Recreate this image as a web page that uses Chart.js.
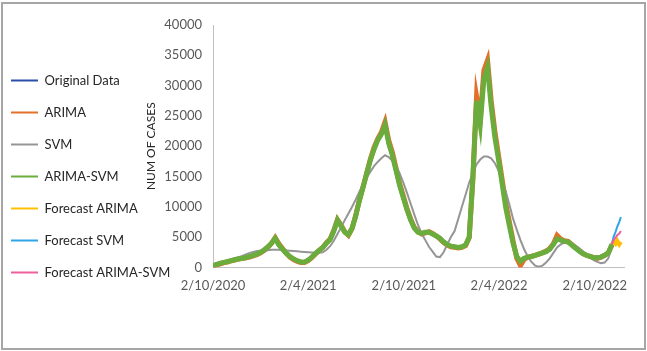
<!DOCTYPE html>
<html>
<head>
<meta charset="utf-8">
<script src="https://cdn.jsdelivr.net/npm/chart.js@4.4.0/dist/chart.umd.min.js"></script>
<style>
  html, body { margin: 0; padding: 0; background: #fff; }
  #frame {
    position: absolute; left: 1px; top: 2px;
    width: 645px; height: 348px;
    box-sizing: border-box;
    border: 2px solid #a6a6a6;
  }
  #wrap { position: absolute; left: 0; top: 0; width: 641px; height: 344px; }
</style>
</head>
<body>
<div id="frame"><div id="wrap"><canvas id="cases-chart"></canvas></div></div>
<script>
// Data: one value per week starting 2/10/2020
const stepDays = 7;
const tickDays = [0, 182, 365, 547, 730];
const tickLabels = ['2/10/2020', '2/4/2021', '2/10/2021', '2/4/2022', '2/10/2022'];

const originalData = [
    300, 500, 700, 800, 1000, 1100, 1300, 1400, 1500, 1600,
    1800, 2000, 2200, 2500, 2900, 3400, 4000, 4800, 3700, 3000,
    2300, 1800, 1400, 1100, 900, 900, 1200, 1700, 2300, 2800,
    3300, 4000, 4600, 6000, 7800, 6800, 5800, 5400, 6500, 8500,
    11000, 13200, 15500, 17700, 19500, 21000, 22000, 23800, 20500, 18500,
    16000, 13500, 11500, 9500, 7800, 6500, 5800, 5600, 5800, 5800,
    5500, 5200, 4800, 4200, 3800, 3500, 3400, 3300, 3400, 3700,
    5000, 15000, 28000, 24000, 32000, 33500, 27000, 22000, 18000, 14000,
    10000, 7000, 4000, 1800, 900, 1500, 1700, 1800, 2000, 2200,
    2400, 2600, 3000, 3800, 4800, 4500, 4300, 4200, 3700, 3200,
    2700, 2300, 2000, 1800, 1600, 1600, 1700, 2000, 2400, 3800
];
const arimaData = [
    200, 400, 600, 800, 900, 1100, 1200, 1400, 1500, 1600,
    1700, 1900, 2100, 2400, 2800, 3300, 4000, 4900, 3900, 3100,
    2400, 1700, 1300, 1000, 800, 800, 1100, 1600, 2200, 2800,
    3300, 4100, 4700, 6100, 7900, 7000, 5900, 5300, 6400, 8600,
    11200, 13300, 15600, 17900, 19800, 21200, 22300, 24000, 21000, 19000,
    16400, 13800, 11800, 9700, 8000, 6600, 5900, 5500, 5700, 5900,
    5600, 5200, 4700, 4100, 3700, 3400, 3300, 3200, 3300, 3600,
    4900, 14500, 28200, 24500, 32500, 34200, 27500, 22500, 18500, 14500,
    10500, 7400, 4300, 1500, 300, 1300, 1700, 1800, 2000, 2200,
    2400, 2700, 3100, 3900, 5300, 4700, 4400, 4300, 3800, 3300,
    2800, 2300, 2000, 1800, 1600, 1500, 1700, 2000, 2400, 3700
];
const svmData = [
    200, 400, 600, 800, 1000, 1250, 1500, 1700, 1900, 2150,
    2400, 2550, 2700, 2750, 2800, 2850, 2900, 2900, 2900, 2850,
    2800, 2750, 2700, 2650, 2600, 2550, 2500, 2450, 2400, 2400,
    2500, 2900, 3500, 4400, 5500, 6600, 7800, 8900, 10000, 11200,
    12500, 13700, 14800, 15800, 16700, 17400, 18000, 18500, 18200, 17600,
    16800, 15500, 14000, 12300, 10500, 8700, 7000, 5600, 4500, 3400,
    2600, 1800, 1700, 2500, 3800, 5000, 6000, 8000, 10000, 12000,
    14000, 15500, 17000, 17800, 18300, 18300, 18000, 17200, 16000, 14300,
    12500, 10300, 8000, 6200, 4500, 3000, 1800, 900, 300, 100,
    300, 800, 1500, 2400, 3300, 3800, 4100, 4200, 4000, 3600,
    3200, 2700, 2200, 1700, 1200, 900, 700, 800, 1500, 3500
];
const arimaSvmData = [
    300, 500, 700, 800, 1000, 1100, 1300, 1400, 1500, 1600,
    1800, 2000, 2200, 2500, 2900, 3400, 4000, 4800, 3700, 3000,
    2300, 1800, 1400, 1100, 900, 900, 1200, 1700, 2300, 2800,
    3300, 4000, 4600, 6000, 7800, 6800, 5800, 5400, 6500, 8500,
    11000, 13200, 15500, 17700, 19500, 21000, 22000, 23500, 20500, 18500,
    16000, 13500, 11500, 9500, 7800, 6500, 5800, 5600, 5800, 5800,
    5500, 5200, 4800, 4200, 3800, 3500, 3400, 3300, 3400, 3700,
    5000, 15000, 27500, 23500, 31000, 33000, 26500, 21500, 17800, 13800,
    9800, 6800, 3900, 1800, 1000, 1500, 1700, 1800, 2000, 2200,
    2400, 2600, 3000, 3800, 4700, 4500, 4300, 4200, 3700, 3200,
    2700, 2300, 2000, 1800, 1600, 1600, 1700, 2000, 2400, 3800
];

const forecastDays = [763, 766, 770, 773, 777, 780];
const forecastArima = [3800, 4300, 3900, 4400, 3800, 4200];
const forecastSvm = [3800, 5000, 5900, 6700, 7500, 8300];
const forecastArimaSvm = [3800, 4500, 4900, 5300, 5600, 6000];

const weekly = values => values.map((v, i) => ({ x: i * stepDays, y: v }));
const forecast = values => values.map((v, i) => ({ x: forecastDays[i], y: v }));

const textColor = '#595959';
const font = { family: 'Lato', size: 13 };

function lineSet(label, data, color, width, order) {
    return {
        label: label,
        data: data,
        borderColor: color,
        backgroundColor: color,
        borderWidth: width,
        pointRadius: 0,
        tension: 0,
        order: order
    };
}

// the legend text runs past its box into the axis area, as in the source,
// and the legend sits a little higher than the x axis box
const legendNudge = {
    id: 'legendNudge',
    afterLayout(chart) {
        const lg = chart.legend;
        lg.right += 60;
        lg.width += 60;
        lg.top -= 7;
        lg.bottom -= 7;
    }
};

const chart = new Chart(document.getElementById('cases-chart'), {
    type: 'line',
    data: {
        datasets: [
            lineSet('Original Data', weekly(originalData), '#2b4ea6', 4, 6),
            lineSet('ARIMA', weekly(arimaData), '#e2702a', 5, 5),
            lineSet('SVM', weekly(svmData), '#959595', 2, 4),
            lineSet('ARIMA-SVM', weekly(arimaSvmData), '#6aad3d', 5, 3),
            lineSet('Forecast ARIMA', forecast(forecastArima), '#ffc000', 4, 2),
            lineSet('Forecast SVM', forecast(forecastSvm), '#2fa4e7', 2, 1),
            lineSet('Forecast ARIMA-SVM', forecast(forecastArimaSvm), '#ef5f9c', 2, 0)
        ]
    },
    plugins: [legendNudge],
    options: {
        responsive: true,
        maintainAspectRatio: false,
        animation: false,
        layout: { padding: { left: -11, top: 21, right: 20, bottom: 43 } },
        plugins: {
            tooltip: { enabled: false },
            legend: {
                position: 'left',
                align: 'end',
                maxWidth: 152,
                labels: {
                    color: '#262626',
                    font: font,
                    usePointStyle: true,
                    pointStyle: 'line',
                    pointStyleWidth: 27,
                    padding: 19,
                    sort: (a, b) => a.datasetIndex - b.datasetIndex,
                    generateLabels: c => Chart.defaults.plugins.legend.labels.generateLabels(c)
                        .map(item => Object.assign(item, { lineWidth: 2 }))
                }
            }
        },
        scales: {
            x: {
                type: 'linear',
                min: 0,
                max: 786,
                afterBuildTicks: scale => { scale.ticks = tickDays.map(v => ({ value: v })); },
                grid: { display: false, drawTicks: false },
                border: { color: '#bfbfbf', width: 1 },
                ticks: {
                    autoSkip: false,
                    maxRotation: 0,
                    padding: 11,
                    color: textColor,
                    font: font,
                    callback: (v, i) => tickLabels[i]
                }
            },
            y: {
                min: 0,
                max: 40000,
                afterFit: scale => { scale.width = 69; },
                grid: { display: false, drawTicks: false },
                border: { color: '#bfbfbf', width: 1 },
                ticks: {
                    stepSize: 5000,
                    padding: 11,
                    color: textColor,
                    font: font,
                    callback: v => v
                },
                title: {
                    display: true,
                    text: 'NUM OF CASES',
                    color: '#262626',
                    font: { family: 'Lato', size: 12 },
                    padding: 0
                }
            }
        }
    }
});
</script>
</body>
</html>
